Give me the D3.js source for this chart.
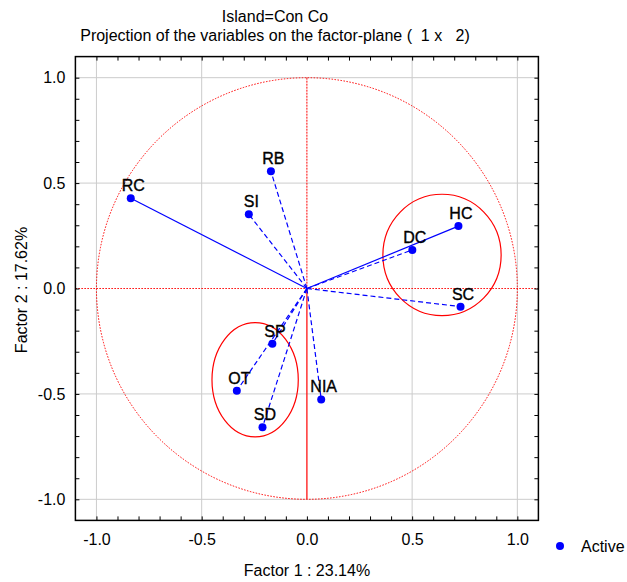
<!DOCTYPE html>
<html>
<head>
<meta charset="utf-8">
<script src="https://cdn.jsdelivr.net/npm/d3@7.9.0/dist/d3.min.js"></script>
<style>
  body { margin: 0; background: #fff; }
  svg { font-family: Arial, "Liberation Sans", sans-serif; }
</style>
</head>
<body>
<svg id="chart" width="627" height="582"></svg>
<script>
// variables projected on factor plane 1 x 2
const labels = ["RC", "RB", "SI", "SP", "OT", "SD", "NIA", "HC", "DC", "SC"];
const factor1 = [-0.837, -0.171, -0.276, -0.164, -0.333, -0.211, 0.068, 0.720, 0.501, 0.730];
const factor2 = [0.428, 0.556, 0.352, -0.262, -0.485, -0.658, -0.526, 0.296, 0.183, -0.086];
const lineType = ["solid", "dashed", "dashed", "dashed", "dashed", "dashed", "dashed", "solid", "dashed", "dashed"];

// group ellipses (centre, radii in factor units)
const groupCx = [0.642, -0.246];
const groupCy = [0.159, -0.433];
const groupRx = [0.281, 0.205];
const groupRy = [0.288, 0.271];

const tickValues = d3.range(-10, 11).map(d => d / 10);
const gridValues = [-1, -0.5, 0.5, 1];

const svg = d3.select("#chart");
const margin = { top: 56.6, left: 75.4 };
const width = 463, height = 463.8;

const x = d3.scaleLinear().domain([-1.1, 1.1]).range([0, width]);
const y = d3.scaleLinear().domain([-1.1, 1.1]).range([height, 0]);

const g = svg.append("g").attr("transform", `translate(${margin.left},${margin.top})`);

// grid
g.selectAll(".vgrid").data(gridValues).enter().append("line")
    .attr("x1", d => x(d)).attr("x2", d => x(d))
    .attr("y1", 0).attr("y2", height)
    .attr("stroke", "#cccccc").attr("stroke-width", 1);
g.selectAll(".hgrid").data(gridValues).enter().append("line")
    .attr("y1", d => y(d)).attr("y2", d => y(d))
    .attr("x1", 0).attr("x2", width)
    .attr("stroke", "#cccccc").attr("stroke-width", 1);

// unit circle
g.append("ellipse")
    .attr("cx", x(0)).attr("cy", y(0))
    .attr("rx", x(1) - x(0)).attr("ry", y(0) - y(1))
    .attr("fill", "none").attr("stroke", "red")
    .attr("stroke-width", 1).attr("stroke-dasharray", "1.5,1.5");

// centre lines
g.append("line")
    .attr("x1", 0).attr("x2", width)
    .attr("y1", y(0)).attr("y2", y(0))
    .attr("stroke", "red").attr("stroke-dasharray", "1.5,1.5");
g.append("line")
    .attr("x1", x(0)).attr("x2", x(0))
    .attr("y1", y(1)).attr("y2", y(0))
    .attr("stroke", "red").attr("stroke-dasharray", "2,1");
g.append("line")
    .attr("x1", x(0)).attr("x2", x(0))
    .attr("y1", y(0)).attr("y2", y(-1))
    .attr("stroke", "red").attr("stroke-width", 1.2);

// group ellipses
g.selectAll(".group").data(groupCx).enter().append("ellipse")
    .attr("cx", d => x(d))
    .attr("cy", (d, i) => y(groupCy[i]))
    .attr("rx", (d, i) => x(groupRx[i]) - x(0))
    .attr("ry", (d, i) => y(0) - y(groupRy[i]))
    .attr("fill", "none").attr("stroke", "red").attr("stroke-width", 1.2);

// vectors
g.selectAll(".vec").data(labels).enter().append("line")
    .attr("x1", x(0)).attr("y1", y(0))
    .attr("x2", (d, i) => x(factor1[i]))
    .attr("y2", (d, i) => y(factor2[i]))
    .attr("stroke", "#0000ff").attr("stroke-width", 1.2)
    .attr("stroke-dasharray", (d, i) => lineType[i] === "dashed" ? "5,3" : null);

// points
g.selectAll(".dot").data(labels).enter().append("circle")
    .attr("cx", (d, i) => x(factor1[i]))
    .attr("cy", (d, i) => y(factor2[i]))
    .attr("r", 4)
    .attr("fill", "#0000ff");

g.selectAll(".lbl").data(labels).enter().append("text")
    .attr("x", (d, i) => x(factor1[i]) + 2.5)
    .attr("y", (d, i) => y(factor2[i]) - 7)
    .attr("text-anchor", "middle")
    .attr("font-size", "16px")
    .attr("stroke", "#000").attr("stroke-width", 0.35)
    .text(d => d);

// axes (ticks pointing inward)
const fmt = d => Math.round(d * 10) % 5 === 0 ? d.toFixed(1) : "";

const xBottom = g.append("g").attr("transform", `translate(0,${height})`)
    .call(d3.axisBottom(x).tickValues(tickValues).tickSize(-4).tickPadding(13).tickFormat(fmt));
const yLeft = g.append("g")
    .call(d3.axisLeft(y).tickValues(tickValues).tickSize(-4).tickPadding(10).tickFormat(fmt));
const xTop = g.append("g")
    .call(d3.axisTop(x).tickValues(tickValues).tickSize(-4).tickFormat(""));
const yRight = g.append("g").attr("transform", `translate(${width},0)`)
    .call(d3.axisRight(y).tickValues(tickValues).tickSize(-4).tickFormat(""));

[xBottom, yLeft, xTop, yRight].forEach(a => {
    a.select(".domain").remove();
    a.selectAll("text").attr("font-size", "16px").attr("font-family", "Arial, 'Liberation Sans', sans-serif").attr("fill", "#000");
    a.selectAll("line").attr("stroke", "#000");
});

// frame
g.append("rect")
    .attr("x", 0).attr("y", 0)
    .attr("width", width).attr("height", height)
    .attr("fill", "none").attr("stroke", "#000").attr("stroke-width", 1.5);

// titles
svg.append("text")
    .attr("x", 275).attr("y", 22)
    .attr("text-anchor", "middle").attr("font-size", "16px")
    .text("Island=Con Co");
svg.append("text")
    .attr("x", 275).attr("y", 41)
    .attr("text-anchor", "middle").attr("font-size", "16px")
    .attr("xml:space", "preserve").style("white-space", "pre")
    .text("Projection of the variables on the factor-plane (  1 x   2)");

svg.append("text")
    .attr("x", 307).attr("y", 576)
    .attr("text-anchor", "middle").attr("font-size", "16px")
    .text("Factor 1 : 23.14%");
svg.append("text")
    .attr("transform", "translate(27,290) rotate(-90)")
    .attr("text-anchor", "middle").attr("font-size", "16px")
    .text("Factor 2 : 17.62%");

// legend
svg.append("circle").attr("cx", 560).attr("cy", 546).attr("r", 4).attr("fill", "#0000ff");
svg.append("text").attr("x", 581).attr("y", 552).attr("font-size", "16px").text("Active");
</script>
</body>
</html>
